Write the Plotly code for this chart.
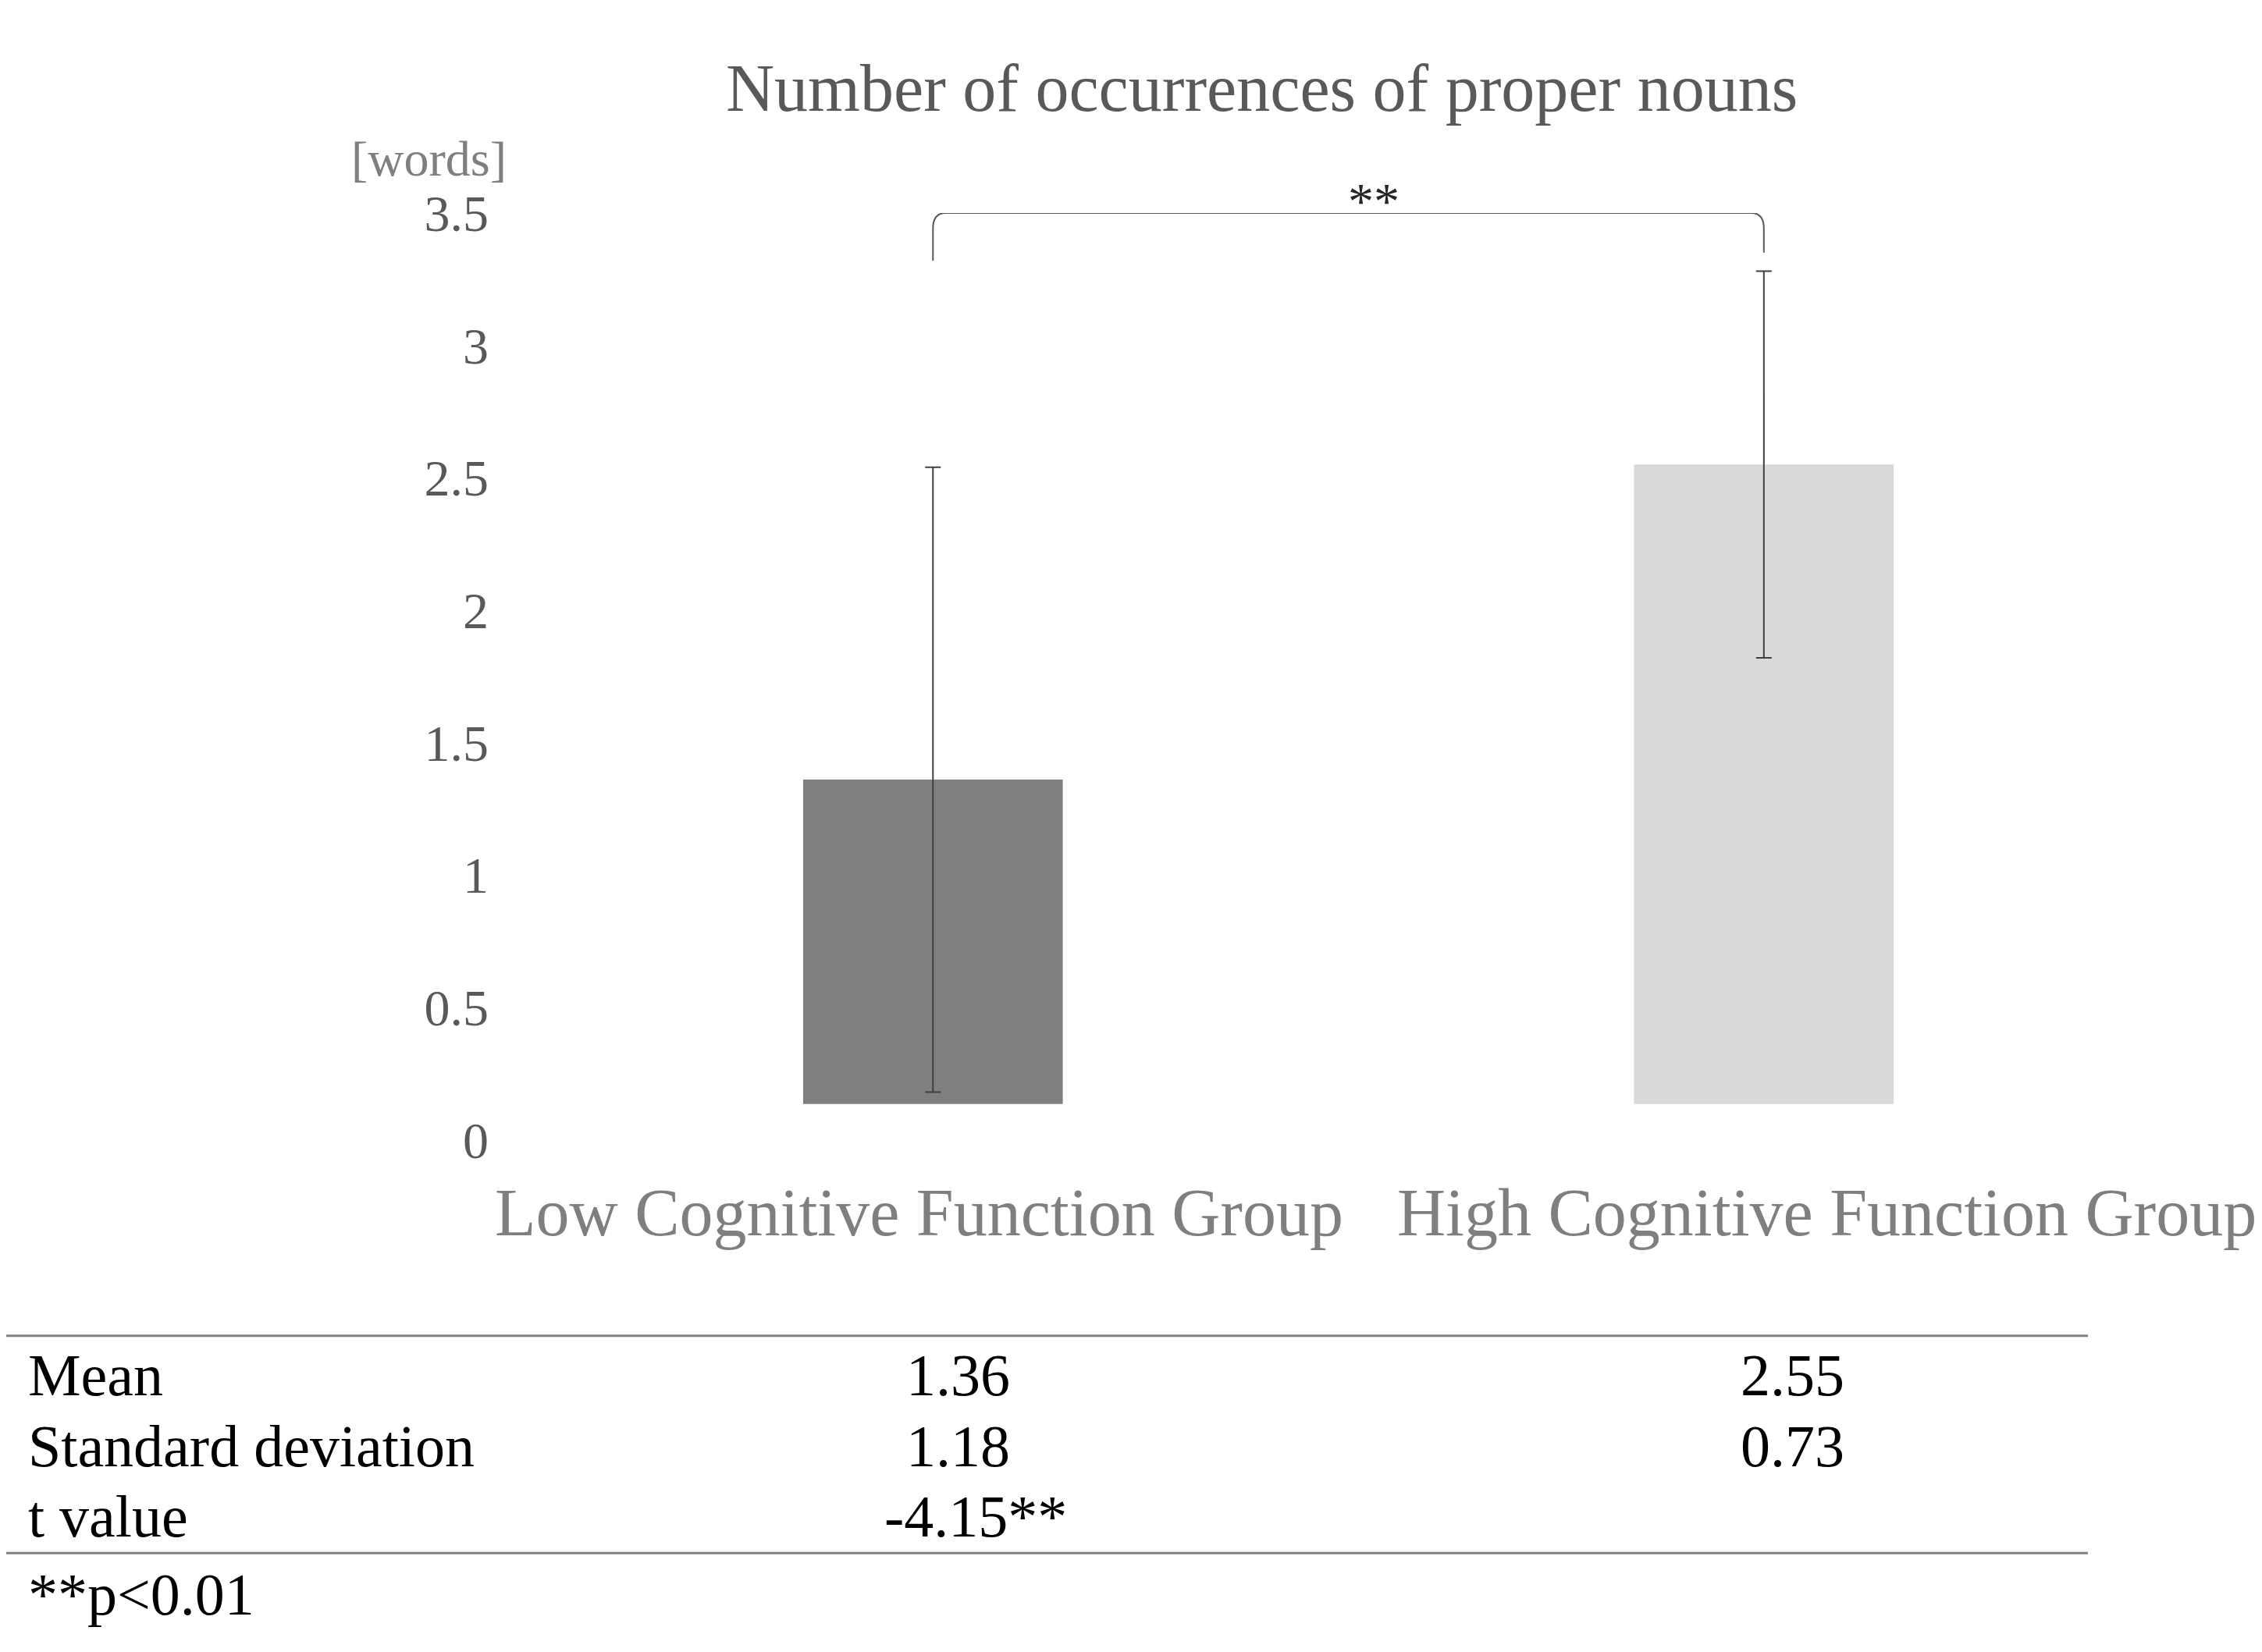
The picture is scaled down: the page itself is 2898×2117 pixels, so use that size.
import plotly.graph_objects as go

groups = ["Low Cognitive Function Group", "High Cognitive Function Group"]
means = [1.36, 2.55]
sds = [1.18, 0.73]
t_value = "-4.15**"
bar_colors = ["#7f7f7f", "#d9d9d9"]
y_ticks = [0, 0.5, 1, 1.5, 2, 2.5, 3, 3.5]
bar_base = 0.135

W, H = 2898, 2117
FONT = "Liberation Serif"
GRAY = "#595959"

fig = go.Figure()
fig.add_trace(go.Bar(
    x=[0, 1], y=[m - bar_base for m in means], base=[bar_base] * 2,
    marker=dict(color=bar_colors, line_width=0), width=0.3125,
    error_y=dict(type="data", array=sds, color="#404040", thickness=2, width=10),
    showlegend=False, hoverinfo="skip"))

fig.update_layout(
    width=W, height=H, margin=dict(l=0, r=0, t=0, b=0),
    paper_bgcolor="white", plot_bgcolor="white",
    font=dict(family=FONT, color=GRAY),
    xaxis=dict(domain=[0.215, 1], range=[-0.530, 1.607], showticklabels=False,
               showgrid=False, zeroline=False, showline=False),
    yaxis=dict(domain=[0.307, 0.888], range=[0, 3.5], tickvals=y_ticks,
               ticktext=[f"{v:g}" for v in y_ticks], tickfont=dict(size=66, color=GRAY),
               showgrid=False, zeroline=False, showline=False, ticklabelstandoff=4),
)

def a(text, x, y, size, color, xanchor="center"):
    return dict(text=text, x=x, y=y, xref="paper", yref="paper", xanchor=xanchor,
                yanchor="middle", showarrow=False, font=dict(size=size, color=color))

ann = [
    a("Number of occurrences of proper nouns", 0.555, 1 - 38 / 1130, 86, GRAY),
    a("[words]", 0.187, 1 - 88 / 1130, 64, "#7f7f7f"),
    a("**", 948 / 1568, 1 - 118 / 1130, 66, "#262626"),
]
for g, xc in zip(groups, [633 / 1568, 1262 / 1568]):
    ann.append(a(g, xc, 1 - 835 / 1130, 86, "#7f7f7f"))

rows = [("Mean", f"{means[0]:.2f}", f"{means[1]:.2f}", 950),
        ("Standard deviation", f"{sds[0]:.2f}", f"{sds[1]:.2f}", 1000),
        ("t value", t_value, "", 1050)]
for lab, v1, v2, yy in rows:
    yp = 1 - yy / 1130
    ann.append(a(lab, 0.009, yp, 76, "black", "left"))
    ann.append(a(v1, (660 if lab != "t value" else 672) / 1568, yp, 76, "black"))
    if v2:
        ann.append(a(v2, 1238 / 1568, yp, 76, "black"))
ann.append(a("**p<0.01", 0.009, 1 - 1105 / 1130, 76, "black", "left"))
fig.update_layout(annotations=ann)

shapes = [
    dict(type="path", xref="x", yref="y",
         path="M 0,3.32 L 0,3.44 Q 0,3.5 0.015,3.5 L 0.985,3.5 Q 1,3.5 1,3.44 L 1,3.35",
         line=dict(color=GRAY, width=2)),
    dict(type="line", xref="paper", yref="paper", x0=0, x1=1443 / 1568,
         y0=1 - 922 / 1130, y1=1 - 922 / 1130, line=dict(color="#808080", width=3)),
    dict(type="line", xref="paper", yref="paper", x0=0, x1=1443 / 1568,
         y0=1 - 1076 / 1130, y1=1 - 1076 / 1130, line=dict(color="#808080", width=3)),
]
fig.update_layout(shapes=shapes)
fig.write_html("out.html")
